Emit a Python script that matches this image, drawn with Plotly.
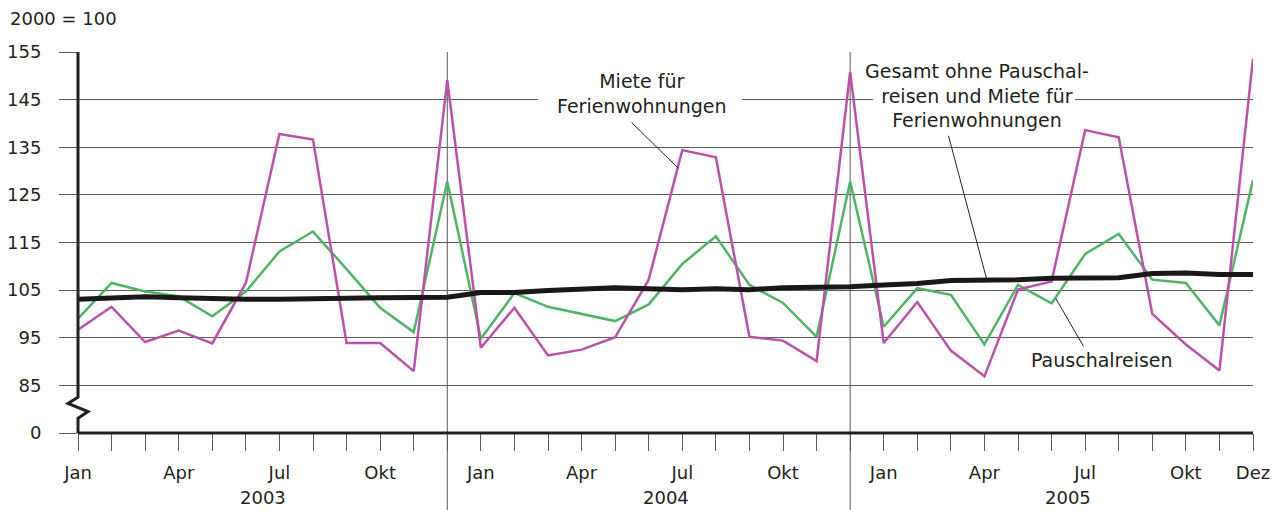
import plotly.graph_objects as go

months = ["Jan", "Feb", "Mär", "Apr", "Mai", "Jun", "Jul", "Aug", "Sep", "Okt", "Nov", "Dez"]
years = ["2003", "2004", "2005"]
periods = [f"{m} {y}" for y in years for m in months]

# Pauschalreisen (green)
pauschalreisen = [
    99.0, 106.5, 104.7, 103.7, 99.5, 104.7, 113.1, 117.3, 109.4, 101.3, 96.2, 127.8,
    94.8, 104.4, 101.5, 100.0, 98.5, 102.0, 110.5, 116.3, 106.1, 102.3, 95.2, 127.8,
    97.3, 105.4, 104.0, 93.6, 106.1, 102.2, 112.6, 116.8, 107.2, 106.5, 97.6, 128.1,
]
# Miete für Ferienwohnungen (magenta)
miete = [
    96.7, 101.5, 94.1, 96.5, 93.8, 106.5, 137.8, 136.6, 93.9, 93.9, 88.0, 149.1,
    92.9, 101.3, 91.3, 92.5, 95.1, 107.2, 134.4, 132.9, 95.2, 94.4, 90.1, 150.8,
    93.9, 102.5, 92.3, 86.9, 105.1, 106.8, 138.6, 137.1, 100.0, 93.6, 88.1, 153.6,
]
# Gesamt ohne Pauschalreisen und Miete für Ferienwohnungen (black)
gesamt = [
    103.1, 103.4, 103.6, 103.4, 103.2, 103.1, 103.1, 103.1, 103.3, 103.4, 103.4, 103.5,
    104.5, 104.5, 104.9, 105.2, 105.5, 105.3, 105.1, 105.3, 105.1, 105.5, 105.5, 105.7,
    106.1, 106.4, 107.0, 107.0, 107.2, 107.5, 107.6, 107.6, 108.5, 108.6, 108.3, 108.3,
]

y_tick_vals = [75, 85, 95, 105, 115, 125, 135, 145, 155]
y_tick_text = ["0", "85", "95", "105", "115", "125", "135", "145", "155"]
x_label_months = {"Jan", "Apr", "Jul", "Okt"}

FONT = "DejaVu Sans"
TXT = "#231f20"
GRID = "#5a5a5a"

n = len(periods)
xs = list(range(n))
x_tick_text = []
for i, p in enumerate(periods):
    m = p.split()[0]
    if i == n - 1:
        x_tick_text.append("Dez")
    elif m in x_label_months:
        x_tick_text.append(m)
    else:
        x_tick_text.append("")

fig = go.Figure()
fig.add_trace(go.Scatter(x=xs, y=pauschalreisen, mode="lines",
                         line=dict(color="#4fb466", width=2.5), name="Pauschalreisen"))
fig.add_trace(go.Scatter(x=xs, y=miete, mode="lines",
                         line=dict(color="#bb52a8", width=2.5), name="Miete für Ferienwohnungen"))
fig.add_trace(go.Scatter(x=xs, y=gesamt, mode="lines",
                         line=dict(color="#1a1718", width=5),
                         name="Gesamt ohne Pauschalreisen und Miete für Ferienwohnungen"))

L, R, T, B = 78, 30, 52, 77
W, H = 1283, 510
pw, ph = W - L - R, H - T - B

def px_x(p):
    return p / pw

def px_y(p):
    return p / ph

shapes = []
def vy(v):
    return (v - 75) / 80.0

# white gaps in the 145 gridline behind the labels (between grid and traces)
for gx0, gx1 in ((13.70, 19.78), (23.68, 29.70)):
    shapes.append(dict(type="rect", xref="x", yref="y", x0=gx0, x1=gx1, y0=143.5, y1=146.5,
                       fillcolor="white", line=dict(width=0), layer="between"))

# y axis with break (paper coords)
shapes.append(dict(type="path", xref="paper", yref="paper",
                   path=(f"M 0,{vy(155)} L 0,{vy(82.5)} L {-px_x(10)},{vy(81.2)} "
                         f"L {px_x(10)},{vy(79.5)} L 0,{vy(78.1)} L 0,{vy(75)}"),
                   line=dict(color=TXT, width=3)))
# x axis baseline
shapes.append(dict(type="line", xref="paper", yref="paper", x0=0, x1=1, y0=0, y1=0,
                   line=dict(color=TXT, width=3)))
# year separators
for sep in (11, 23):
    xp = sep / (n - 1)
    shapes.append(dict(type="line", xref="paper", yref="paper", x0=xp, x1=xp,
                       y0=-px_y(B), y1=1, line=dict(color=GRID, width=1), layer="below"))
# leader lines
leaders = [((16.49, 140.2), (17.88, 130.6)),
           ((25.93, 137.4), (27.07, 107.2)),
           ((29.13, 103.2), (29.95, 93.2))]
for (x0, y0), (x1, y1) in leaders:
    shapes.append(dict(type="line", xref="x", yref="y", x0=x0, y0=y0, x1=x1, y1=y1,
                       line=dict(color=TXT, width=1)))

annotations = [
    dict(text="2000 = 100", xref="paper", yref="paper", x=-px_x(70), y=1 + px_y(34),
         xanchor="left", yanchor="middle", showarrow=False,
         font=dict(family=FONT, size=18, color=TXT)),
    dict(text="Miete für<br>Ferienwohnungen", xref="x", yref="y", x=16.79, y=146.2,
         xanchor="center", yanchor="middle", showarrow=False,
         font=dict(family=FONT, size=19, color=TXT)),
    dict(text="Gesamt ohne Pauschal-<br>reisen und Miete für<br>Ferienwohnungen",
         xref="x", yref="y", x=26.78, y=145.9,
         xanchor="center", yanchor="middle", showarrow=False,
         font=dict(family=FONT, size=19, color=TXT)),
    dict(text="Pauschalreisen", xref="x", yref="y", x=30.49, y=90.3,
         xanchor="center", yanchor="middle", showarrow=False,
         font=dict(family=FONT, size=19, color=TXT)),
]
for k, yr in enumerate(years):
    annotations.append(dict(text=yr, xref="x", yref="paper", x=12 * k + 5.5,
                            y=-px_y(64), xanchor="center", yanchor="middle", showarrow=False,
                            font=dict(family=FONT, size=18, color=TXT)))

fig.update_layout(
    width=W, height=H,
    margin=dict(l=L, r=R, t=T, b=B, pad=0, autoexpand=False),
    paper_bgcolor="white", plot_bgcolor="white",
    showlegend=False,
    font=dict(family=FONT, size=18, color=TXT),
    shapes=shapes, annotations=annotations,
    xaxis=dict(range=[0, n - 1], tickmode="array", tickvals=xs, ticktext=x_tick_text,
               ticks="outside", ticklen=17, tickcolor=GRID, tickwidth=1,
               showgrid=False, zeroline=False, showline=False, automargin=False,
               tickfont=dict(family=FONT, size=18, color=TXT), ticklabelstandoff=6),
    yaxis=dict(range=[75, 155], tickmode="array", tickvals=y_tick_vals, ticktext=y_tick_text,
               ticks="outside", ticklen=18, tickcolor=GRID, tickwidth=1,
               showgrid=True, gridcolor=GRID, gridwidth=1,
               zeroline=False, showline=False, automargin=False,
               tickfont=dict(family=FONT, size=18, color=TXT), ticklabelstandoff=14),
)

fig.write_html("out.html", config={"displayModeBar": False},
               post_script="document.body.style.margin='0';document.body.style.overflow='hidden';")
